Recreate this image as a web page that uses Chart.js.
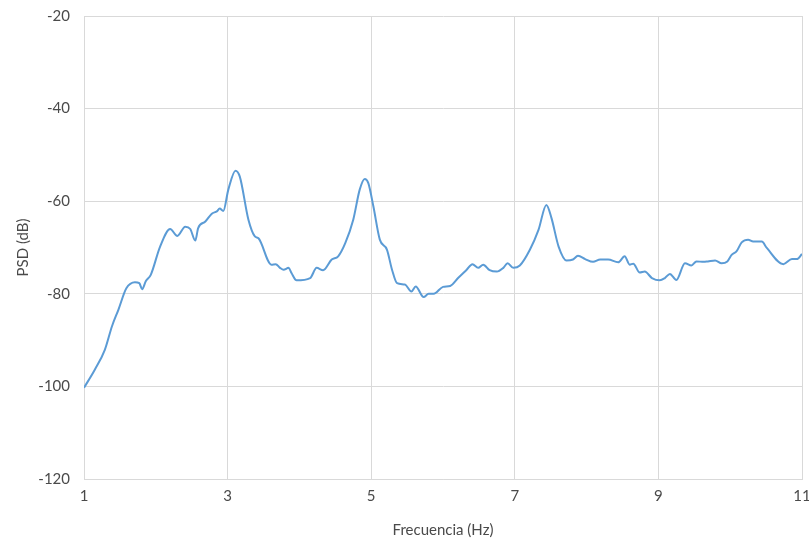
<!DOCTYPE html>
<html>
<head>
<meta charset="utf-8">
<script src="https://cdn.jsdelivr.net/npm/chart.js@4/dist/chart.umd.min.js"></script>
<style>
  html, body { margin: 0; padding: 0; background: #ffffff; }
  #wrap { width: 809px; height: 542px; position: relative; }
</style>
</head>
<body>
<div id="wrap"><canvas id="psd"></canvas></div>
<script>
// Frequency (Hz) and power spectral density (dB)
const freqHz = [
  1.00, 1.15, 1.29, 1.39, 1.48, 1.59, 1.71, 1.77, 1.81, 1.86, 1.93, 2.06, 2.20, 2.30, 2.41, 2.48,
  2.55, 2.59, 2.69, 2.78, 2.85, 2.89, 2.94, 3.01, 3.11, 3.17, 3.29, 3.38, 3.43, 3.61, 3.67, 3.73,
  3.78, 3.85, 3.89, 3.96, 4.15, 4.24, 4.33, 4.45, 4.54, 4.64, 4.75, 4.84, 4.91, 4.96, 5.03, 5.12,
  5.22, 5.29, 5.36, 5.47, 5.56, 5.62, 5.73, 5.80, 5.87, 6.00, 6.10, 6.21, 6.33, 6.41, 6.49, 6.56,
  6.65, 6.75, 6.84, 6.90, 6.98, 7.07, 7.21, 7.33, 7.44, 7.51, 7.61, 7.72, 7.81, 7.88, 7.98, 8.09,
  8.19, 8.30, 8.44, 8.53, 8.60, 8.65, 8.74, 8.81, 8.91, 9.02, 9.09, 9.16, 9.25, 9.37, 9.46, 9.53,
  9.63, 9.69, 9.79, 9.88, 9.96, 10.02, 10.09, 10.16, 10.25, 10.32, 10.44, 10.51, 10.74, 10.86, 10.93, 11.00
];
const psdDb = [
  -100.3, -96.4, -92.1, -87.0, -83.4, -78.8, -77.5, -77.7, -79.0, -77.3, -75.9, -69.8, -66.0, -67.5, -65.5, -66.0,
  -68.5, -65.8, -64.4, -62.7, -62.2, -61.6, -62.1, -57.5, -53.4, -54.7, -64.0, -67.6, -68.0, -73.7, -73.6, -74.4,
  -74.8, -74.4, -75.5, -77.1, -76.6, -74.4, -74.9, -72.6, -71.9, -69.0, -64.0, -57.5, -55.2, -56.1, -61.1, -68.3,
  -70.5, -74.8, -77.7, -78.0, -79.5, -78.4, -80.7, -80.0, -80.0, -78.5, -78.3, -76.6, -74.8, -73.6, -74.4, -73.7,
  -74.9, -75.2, -74.4, -73.4, -74.4, -73.9, -70.5, -66.2, -60.8, -63.6, -69.8, -72.8, -72.6, -71.8, -72.5, -73.1,
  -72.6, -72.6, -73.2, -71.9, -73.7, -73.5, -75.4, -75.2, -76.6, -77.1, -76.6, -75.7, -77.0, -73.4, -73.9, -73.0,
  -73.1, -73.0, -72.8, -73.4, -73.0, -71.6, -70.8, -68.9, -68.3, -68.7, -68.7, -70.1, -73.6, -72.5, -72.5, -71.4
];
const xTicks = [1, 3, 5, 7, 9, 11];
const yTicks = [-120, -100, -80, -60, -40, -20];

const points = freqHz.map((f, i) => ({ x: f, y: psdDb[i] }));
const FONT = "Lato, 'Liberation Sans', sans-serif";
const TEXT = '#4a4a4a';
const GRID = '#d9d9d9';

new Chart(document.getElementById('psd'), {
  type: 'line',
  data: {
    datasets: [{
      data: points,
      borderColor: '#5b9bd5',
      borderWidth: 2,
      pointRadius: 0,
      fill: false,
      cubicInterpolationMode: 'monotone'
    }]
  },
  options: {
    responsive: true,
    maintainAspectRatio: false,
    animation: false,
    layout: { padding: { top: 16, right: 7, bottom: 0, left: 0 } },
    plugins: { legend: { display: false }, tooltip: { enabled: false } },
    scales: {
      x: {
        type: 'linear',
        min: xTicks[0],
        max: xTicks[xTicks.length - 1],
        afterBuildTicks: s => { s.ticks = xTicks.map(v => ({ value: v })); },
        afterFit: s => { s.height = 63; s.paddingLeft = 0; s.paddingRight = 0; },
        grid: { color: GRID, drawTicks: false },
        border: { color: GRID },
        ticks: { color: TEXT, font: { family: FONT, size: 15 }, padding: 8 },
        title: { display: true, text: 'Frecuencia (Hz)', color: TEXT, font: { family: FONT, size: 15 }, padding: { top: 0, bottom: 3 } }
      },
      y: {
        min: yTicks[0],
        max: yTicks[yTicks.length - 1],
        afterBuildTicks: s => { s.ticks = yTicks.map(v => ({ value: v })); },
        afterFit: s => { s.width = 84; s.paddingTop = 0; s.paddingBottom = 0; },
        grid: { color: GRID, drawTicks: false },
        border: { color: GRID },
        ticks: { color: TEXT, font: { family: FONT, size: 15 }, padding: 14 },
        title: { display: true, text: 'PSD (dB)', color: TEXT, font: { family: FONT, size: 15 }, padding: { top: 14, bottom: 0 } }
      }
    }
  }
});
</script>
</body>
</html>
